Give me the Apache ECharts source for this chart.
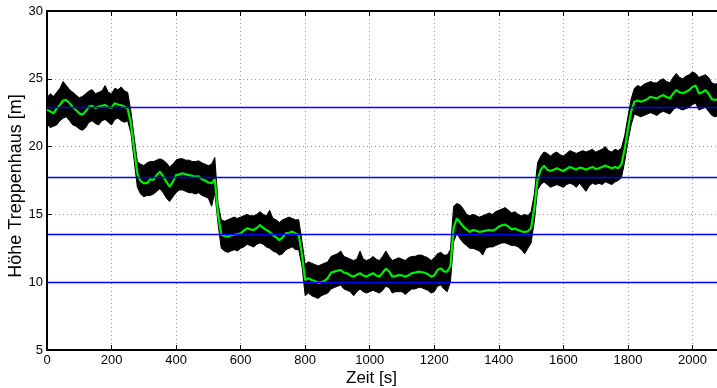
<!DOCTYPE html>
<html><head><meta charset="utf-8">
<script src="https://cdn.jsdelivr.net/npm/echarts@6/dist/echarts.min.js"></script>
<style>html,body{margin:0;padding:0;background:#fff}#c{width:717px;height:388px}</style>
</head><body><div id="c"></div>
<script>
// sampling: one value every 10 s starting at 0 s
const sampleStart = 0;
const sampleStep = 10;

// smoothed (green) height [m]
const heightSmoothed = [
  22.7, 22.6, 22.45, 22.8, 23.07, 23.4, 23.44, 23.2, 22.9, 22.7,
  22.45, 22.35, 22.6, 22.95, 23.0, 22.83, 22.95, 23.0, 23.07, 22.9,
  22.85, 23.2, 23.1, 23.05, 22.95, 22.8, 21.7, 19.8, 18.0, 17.45,
  17.3, 17.3, 17.6, 17.55, 17.9, 18.15, 17.8, 17.4, 17.05, 17.4,
  17.9, 17.95, 18.03, 17.95, 17.9, 17.85, 17.78, 17.8, 17.6, 17.5,
  17.35, 17.3, 17.6, 15.0, 13.5, 13.4, 13.36, 13.45, 13.5, 13.55,
  13.6, 13.8, 13.97, 13.9, 13.85, 14.0, 14.22, 14.0, 13.85, 13.7,
  13.48, 13.3, 13.11, 13.3, 13.6, 13.65, 13.73, 13.6, 13.48, 12.0,
  10.16, 10.3, 10.16, 10.1, 9.95, 10.0, 10.1, 10.3, 10.7, 10.78,
  10.85, 10.9, 10.7, 10.66, 10.5, 10.41, 10.55, 10.66, 10.5, 10.41,
  10.55, 10.66, 10.5, 10.41, 10.7, 11.0, 10.8, 10.41, 10.45, 10.53,
  10.5, 10.41, 10.5, 10.66, 10.7, 10.78, 10.75, 10.7, 10.6, 10.41,
  10.5, 10.9, 11.02, 10.8, 10.78, 11.2, 14.0, 14.7, 14.4, 14.1,
  13.9, 13.7, 13.85, 13.8, 13.7, 13.75, 13.8, 13.85, 13.8, 13.9,
  14.1, 14.2, 14.25, 14.1, 13.9, 13.95, 13.85, 13.75, 13.7, 13.75,
  14.0, 15.5, 17.6, 18.3, 18.6, 18.3, 18.2, 18.3, 18.4, 18.3,
  18.2, 18.35, 18.5, 18.4, 18.3, 18.45, 18.4, 18.3, 18.4, 18.5,
  18.35, 18.4, 18.5, 18.6, 18.5, 18.4, 18.5, 18.4, 18.7, 19.8,
  21.3, 22.6, 23.3, 23.4, 23.3, 23.4, 23.5, 23.68, 23.6, 23.56,
  23.7, 23.8, 23.65, 23.56, 23.9, 24.17, 24.0, 23.93, 24.05, 24.17,
  24.4, 24.5, 23.9, 24.0, 24.17, 23.9, 23.5, 23.44, 23.5
];

// raw (black) measurement: upper and lower edge of the noise band [m]
const heightRawUpper = [
  23.6, 23.9, 23.7, 24.0, 24.3, 24.8, 24.5, 24.2, 24.0, 23.8,
  23.6, 23.7, 23.9, 24.1, 24.2, 23.9, 24.0, 24.1, 24.5, 24.0,
  23.9, 24.3, 24.2, 24.4, 24.1, 24.0, 22.6, 20.7, 18.9, 18.7,
  18.6, 18.8, 18.9, 18.9, 19.0, 19.1, 19.0, 18.8, 18.5, 18.7,
  19.0, 19.1, 19.1, 19.0, 19.0, 18.9, 18.9, 18.95, 18.8, 18.7,
  18.6, 18.7, 19.2, 15.8, 14.6, 14.5, 14.6, 14.7, 14.8, 14.7,
  14.8, 14.9, 15.0, 14.9, 14.9, 15.0, 15.2, 15.0, 14.9, 15.3,
  14.7, 14.6, 14.4, 14.6, 14.7, 14.8, 14.7, 14.6, 14.6, 13.0,
  11.3, 11.5, 11.4, 11.3, 11.2, 11.3, 11.4, 11.5, 11.9, 12.0,
  12.1, 12.3, 11.9, 11.8, 11.7, 11.6, 11.7, 12.3, 11.7, 11.6,
  11.7, 11.9, 11.7, 11.6, 11.9, 12.3, 11.9, 11.6, 11.7, 11.8,
  11.7, 11.6, 11.8, 11.9, 11.9, 12.0, 12.0, 11.9, 11.8, 11.6,
  11.8, 12.1, 12.2, 12.0, 12.0, 12.4, 15.6, 15.8, 15.7, 15.4,
  15.0, 14.9, 15.0, 14.9, 14.8, 14.9, 15.0, 15.1, 15.0, 15.2,
  15.3, 15.4, 15.5, 15.3, 15.1, 15.2, 15.0, 14.9, 15.0, 14.9,
  15.2, 16.5, 18.8, 19.3, 19.6, 19.5, 19.3, 19.5, 19.6, 19.4,
  19.3, 19.5, 19.7, 19.6, 19.5, 19.6, 19.7, 19.6, 19.7, 19.8,
  19.6, 19.7, 19.8, 20.0, 19.7, 19.6, 19.8, 19.7, 19.9, 20.8,
  22.2, 23.5, 24.3, 24.5, 24.4, 24.6, 24.7, 24.8, 24.7, 24.7,
  24.9, 25.0, 24.8, 24.7, 25.1, 25.4, 25.1, 25.0, 25.2, 25.3,
  25.5, 25.4, 25.1, 25.2, 25.3, 25.1, 24.7, 24.6, 24.7
];
const heightRawLower = [
  21.7, 21.4, 21.5, 21.6, 21.9, 22.1, 22.2, 21.9, 21.6, 21.5,
  21.3, 21.2, 21.4, 21.8, 21.9, 21.7, 21.6, 21.9, 22.0, 21.8,
  21.6, 22.0, 22.1, 21.9, 21.8, 21.9, 21.0, 19.0, 17.0, 16.5,
  16.3, 16.4, 16.4, 16.5, 16.7, 16.9, 16.6, 16.2, 15.95, 16.3,
  16.6, 16.8, 16.8, 16.7, 16.6, 16.6, 16.5, 16.6, 16.4, 16.3,
  16.2, 15.6, 16.6, 14.3, 12.5, 12.3, 12.2, 12.3, 12.4, 12.3,
  12.5, 12.6, 12.8, 12.7, 12.6, 12.8, 12.9, 12.8, 12.6, 12.5,
  12.3, 12.2, 12.0, 12.1, 12.4, 12.5, 12.6, 12.4, 12.4, 11.2,
  9.0, 9.2, 9.0, 8.9, 8.8, 9.0, 9.1, 9.2, 9.5, 9.6,
  9.7, 9.8, 9.5, 9.4, 9.3, 9.0, 9.3, 9.5, 9.3, 9.2,
  9.3, 9.4, 9.3, 9.2, 9.4, 9.7, 9.6, 9.2, 9.3, 9.3,
  9.3, 9.1, 9.3, 9.5, 9.5, 9.6, 9.6, 9.5, 9.4, 9.2,
  9.3, 9.7, 9.8, 9.5, 9.3, 10.0, 13.0, 13.6, 13.2, 12.9,
  12.7, 12.5, 12.5, 12.4, 12.3, 12.0, 12.5, 12.6, 12.6, 12.7,
  12.8, 12.9, 12.9, 12.8, 12.7, 12.7, 12.6, 12.4, 12.1, 12.5,
  12.9, 14.5, 16.8, 17.2, 17.4, 17.2, 17.0, 17.1, 17.2, 17.1,
  17.0, 17.2, 17.3, 17.2, 17.0, 17.3, 17.0, 16.7, 17.1, 17.3,
  17.2, 17.3, 17.2, 17.4, 17.3, 17.2, 17.4, 17.5, 17.7, 18.9,
  20.4, 21.6, 22.4, 22.3, 22.2, 22.3, 22.4, 22.5, 22.4, 22.3,
  22.5, 22.6, 22.5, 22.4, 22.7, 22.9, 22.8, 22.7, 22.8, 22.9,
  23.1, 23.2, 22.7, 22.8, 22.9, 22.6, 22.3, 22.2, 22.3
];

// floor levels (blue horizontal lines) [m]
const floorLevels = [22.87, 17.75, 13.57, 10.03];

const timeAt = i => sampleStart + i * sampleStep;
const pairs = arr => arr.map((v, i) => [timeAt(i), v]);

const FONT = 'Liberation Sans, Arial, Helvetica, sans-serif';
const chart = echarts.init(document.getElementById('c'), null, {renderer: 'canvas'});

const gridLine = {show: true, lineStyle: {color: '#9a9a9a', width: 1, type: [1, 3]}};
const plainNum = v => String(v);

chart.setOption({
  animation: false,
  backgroundColor: '#fff',
  grid: {left: 47, top: 11, right: 0, bottom: 38, containLabel: false, outerBoundsMode: 'none'},
  xAxis: [{
    type: 'value', min: 0, max: 2076, interval: 200,
    name: 'Zeit [s]', nameLocation: 'middle', nameGap: 20, nameMoveOverlap: false,
    nameTextStyle: {fontFamily: FONT, fontSize: 17, color: '#000', padding: [0, 21, 0, 0]},
    axisLine: {show: true, onZero: false, lineStyle: {color: '#000', width: 2}},
    axisTick: {show: true, inside: true, length: 5, lineStyle: {color: '#000', width: 1}},
    axisLabel: {fontFamily: FONT, fontSize: 13, color: '#000', margin: 4, showMaxLabel: false, formatter: plainNum},
    splitLine: gridLine
  }, {
    type: 'value', min: 0, max: 2076, interval: 200, position: 'top',
    axisLine: {show: true, onZero: false, lineStyle: {color: '#000', width: 2}},
    axisTick: {show: true, inside: true, length: 5, lineStyle: {color: '#000', width: 1}},
    axisLabel: {show: false}, splitLine: {show: false}
  }],
  yAxis: {
    type: 'value', min: 5, max: 30, interval: 5,
    name: 'Höhe Treppenhaus [m]', nameLocation: 'middle', nameGap: 22, nameRotate: 90, nameMoveOverlap: false,
    nameTextStyle: {fontFamily: FONT, fontSize: 18, color: '#000', padding: [0, 11, 0, 0]},
    axisLine: {show: true, onZero: false, lineStyle: {color: '#000', width: 2}},
    axisTick: {show: true, inside: true, length: 5, lineStyle: {color: '#000', width: 1}},
    axisLabel: {fontFamily: FONT, fontSize: 13, color: '#000', margin: 4, formatter: plainNum},
    splitLine: gridLine
  },
  series: [
    {
      name: 'raw', type: 'custom', coordinateSystem: 'cartesian2d', clip: true, silent: true, z: 2,
      data: [[timeAt(0), heightRawUpper[0]]],
      renderItem: (params, api) => {
        const pts = [];
        for (let i = 0; i < heightRawUpper.length; i++) pts.push(api.coord([timeAt(i), heightRawUpper[i]]));
        for (let i = heightRawLower.length - 1; i >= 0; i--) pts.push(api.coord([timeAt(i), heightRawLower[i]]));
        return {type: 'polygon', shape: {points: pts}, style: {fill: '#000', stroke: '#000', lineWidth: 1}};
      }
    },
    {
      name: 'levels', type: 'line', data: [], symbol: 'none', silent: true, z: 3,
      markLine: {
        silent: true, symbol: ['none', 'none'], label: {show: false},
        lineStyle: {color: '#0000ff', width: 1.3, type: 'solid'},
        data: floorLevels.map(v => ({yAxis: v}))
      }
    },
    {
      name: 'smoothed', type: 'line', data: pairs(heightSmoothed),
      symbol: 'none', lineStyle: {color: '#00ee00', width: 2.2}, silent: true, z: 4
    }
  ]
});
</script></body></html>
